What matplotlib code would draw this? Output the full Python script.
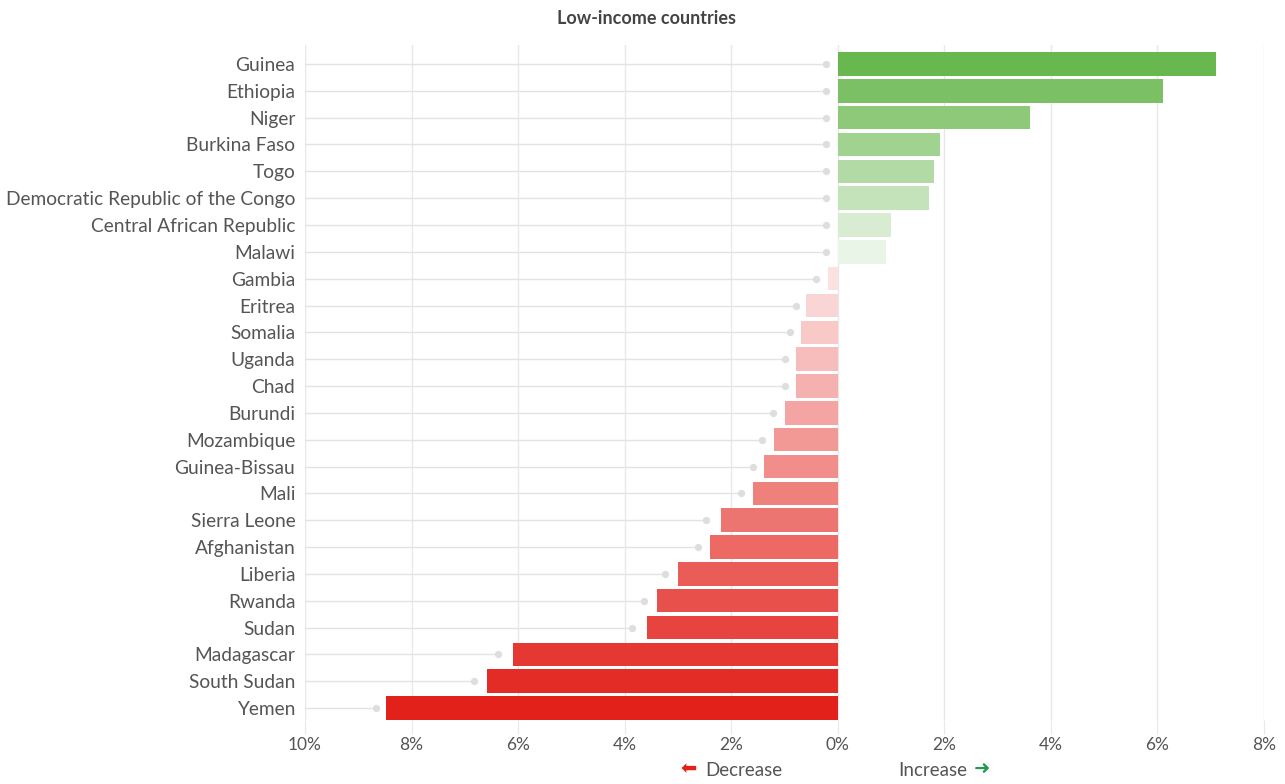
import numpy as np
import matplotlib
matplotlib.use("Agg")
import matplotlib.pyplot as plt
from matplotlib.colors import LinearSegmentedColormap
from matplotlib.ticker import FuncFormatter

countries = ["Guinea", "Ethiopia", "Niger", "Burkina Faso", "Togo",
             "Democratic Republic of the Congo", "Central African Republic", "Malawi",
             "Gambia", "Eritrea", "Somalia", "Uganda", "Chad", "Burundi", "Mozambique",
             "Guinea-Bissau", "Mali", "Sierra Leone", "Afghanistan", "Liberia", "Rwanda",
             "Sudan", "Madagascar", "South Sudan", "Yemen"]
change = [7.09, 6.1, 3.6, 1.91, 1.8, 1.71, 0.99, 0.9,
          -0.19, -0.6, -0.69, -0.79, -0.79, -0.99, -1.2,
          -1.39, -1.6, -2.2, -2.4, -3.0, -3.4,
          -3.58, -6.1, -6.59, -8.48]
marker = [-0.22, -0.22, -0.22, -0.22, -0.22, -0.22, -0.22, -0.22,
          -0.41, -0.79, -0.9, -0.99, -0.99, -1.22, -1.43,
          -1.6, -1.82, -2.48, -2.63, -3.25, -3.64,
          -3.86, -6.38, -6.83, -8.67]

text_col = "#555555"
plt.rcParams['font.family'] = ['Lato', 'DejaVu Sans']

greens = LinearSegmentedColormap.from_list("g", ["#e9f5e6", "#69b74f"])
reds = LinearSegmentedColormap.from_list("r", ["#fce1e1", "#e2211a"])

# shade by rank within each side
n_pos = sum(1 for v in change if v > 0)
n_neg = len(change) - n_pos
colors = []
for i, v in enumerate(change):
    if v > 0:
        colors.append(greens(1 - i / (n_pos - 1)))
    else:
        colors.append(reds((i - n_pos) / (n_neg - 1)))

fig = plt.figure(figsize=(12.85, 7.84), dpi=100)
ax = fig.add_axes([305 / 1285, 1 - 720 / 784, (1264 - 305) / 1285, (720 - 45) / 784])

y = np.arange(len(countries))
ax.set_xlim(-10, 8)
ax.set_ylim(len(countries) - 1 + 0.447, -0.708)

ax.set_xticks(np.arange(-10, 9, 2))
for xv in np.arange(-10, 9, 2):
    ax.axvline(xv, color="#e8e8e8", lw=1, zorder=0)

for yi, m in zip(y, marker):
    ax.plot([-10, m], [yi, yi], color="#e3e3e3", lw=1, zorder=1)
ax.scatter(marker, y, s=18, color="#dedede", zorder=2)

ax.barh(y, change, height=0.88, color=colors, zorder=3)

ax.set_yticks(y)
ax.set_yticklabels(countries, fontsize=13.8, color=text_col)
ax.xaxis.set_major_formatter(FuncFormatter(lambda v, p: f"{abs(v):.0f}%"))
ax.tick_params(axis="x", labelsize=12.5, colors=text_col, length=10, color="#e8e8e8", pad=2)
ax.tick_params(axis="y", length=0, pad=7)
for s in ax.spines.values():
    s.set_visible(False)

fig.text(0.503, 1 - 18 / 784, "Low-income countries", ha="center", va="center",
         fontsize=13, fontweight="bold", color="#444444")

fig.text(782 / 1285, 1 - 770 / 784, "Decrease", ha="right", va="center",
         fontsize=13.5, color=text_col)
fig.text(697 / 1285, 1 - 769 / 784, "\u2b05", ha="right", va="center",
         fontsize=14, color="#e2211a", family="DejaVu Sans")
fig.text(898 / 1285, 1 - 770 / 784, "Increase", ha="left", va="center",
         fontsize=13.5, color=text_col)
fig.text(974 / 1285, 1 - 769 / 784, "\u279c", ha="left", va="center",
         fontsize=14, color="#1a9c4a", family="DejaVu Sans")

fig.savefig("out.png", dpi=100)
